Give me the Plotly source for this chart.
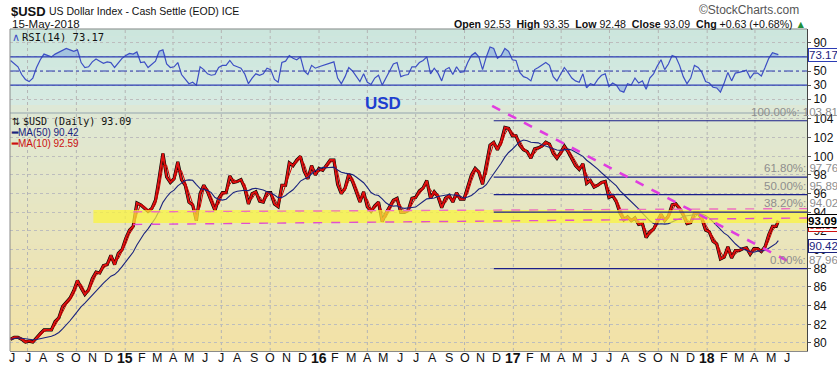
import numpy as np
import pandas as pd
import plotly.graph_objects as go

# ---------------- data (weekly closes) ----------------
close_2014 = [80.4,
              80.6, 80.6, 80.4, 80.1,
              80.2, 80.1, 80.6, 81.0,
              81.4, 81.4, 81.4, 82.3, 82.7,
              83.9, 84.3, 84.8, 85.6,
              86.7, 85.9, 85.2, 85.7, 86.9,
              87.6, 87.5, 88.3, 88.4,
              89.4, 88.4, 89.6, 90.0]
close_2015 = [91.2, 92.1, 92.5, 95.0, 94.8,
              94.5, 94.1, 94.4, 95.3,
              97.7, 100.3, 97.8, 97.2,
              97.6, 99.4, 97.5, 96.9,
              95.1, 94.8, 93.1, 96.0, 96.9,
              96.2, 95.2, 94.2, 95.5,
              96.1, 96.1, 97.9, 97.2, 97.3,
              97.5, 96.6, 94.9, 96.0,
              96.2, 95.2, 95.1, 96.1,
              96.1, 94.9, 94.6, 96.9, 96.9,
              99.3, 99.0, 99.6, 100.0,
              98.4, 97.6, 99.0, 98.0]
close_2016 = [98.7, 98.5, 99.0, 99.6, 99.6,
              97.0, 96.0, 96.6, 98.1,
              97.3, 96.2, 95.1, 96.2,
              94.6, 94.1, 94.7, 95.1, 93.0,
              93.9, 94.6, 95.3, 95.5,
              94.0, 94.0, 94.2, 95.5,
              95.6, 96.3, 96.6, 97.4, 95.5,
              96.2, 95.7, 94.5, 95.5,
              95.8, 95.1, 96.1, 95.4, 95.4,
              96.6, 98.0, 98.7, 98.3,
              97.0, 99.0, 101.2, 101.5,
              100.7, 101.6, 103.1, 103.0, 102.2]
close_2017 = [102.2, 101.2, 100.7, 100.5,
              99.8, 100.8, 100.9, 101.1,
              101.5, 101.3, 100.3, 99.8, 100.4,
              101.1, 100.5, 99.8, 99.0,
              98.6, 99.2, 97.1, 97.4,
              96.7, 96.9, 97.2, 97.3, 95.6,
              95.8, 95.1, 93.9, 93.2,
              93.5, 93.1, 93.4, 92.7,
              92.8, 91.3, 91.9, 92.2, 93.1,
              93.8, 93.1, 93.6, 94.8,
              94.9, 94.4, 93.7, 92.8,
              92.9, 93.9, 93.9, 93.3, 92.1]
close_2018 = [91.9, 90.9, 90.6, 89.0,
              89.2, 90.3, 89.1, 89.9,
              89.9, 90.1, 90.2, 89.5, 90.1,
              90.1, 89.8, 90.3, 91.6,
              92.5, 92.5,
              93.09]

rsi_2014 = [65,
            60, 56, 45, 38,
            35, 40, 55, 66,
            74, 72, 70, 74, 77,
            80, 82, 80, 78,
            80, 62, 55, 56, 63,
            67, 64, 61, 63,
            62, 55, 62, 68]
rsi_2015 = [72, 75, 74, 77, 62,
            63, 55, 60, 64,
            78, 80, 60, 55,
            56, 62, 45, 38,
            32, 34, 30, 56, 52,
            46, 44, 45, 55,
            58, 58, 65, 58, 56,
            54, 46, 32, 40,
            46, 44, 46, 54,
            52, 38, 34, 62, 64,
            72, 68, 66, 70,
            50, 45, 58, 54]
rsi_2016 = [56, 58, 60, 62, 63,
            40, 32, 42, 55,
            50, 42, 35, 46,
            34, 31, 40, 44, 30,
            40, 50, 60, 62,
            42, 44, 45, 56,
            56, 62, 65, 70, 46,
            54, 47, 36, 52,
            55, 45, 56, 48, 49,
            62, 72, 76, 70,
            52, 70, 84, 82,
            68, 72, 82, 78, 66]
rsi_2017 = [65, 48, 42, 40,
            36, 52, 55, 58,
            62, 58, 42, 36, 46,
            55, 48, 40, 36,
            34, 46, 26, 32,
            30, 38, 44, 46, 28,
            33, 30, 22, 20,
            32, 30, 40, 33,
            36, 24, 40, 46, 57,
            66, 52, 60, 72,
            70, 58, 42, 32,
            40, 58, 55, 48, 35]
rsi_2018 = [33, 27, 26, 20,
            33, 48, 36, 47,
            48, 50, 51, 40, 47,
            47, 43, 55, 68,
            76, 74,
            73.17]

close = close_2014 + close_2015 + close_2016 + close_2017 + close_2018
rsi = rsi_2014 + rsi_2015 + rsi_2016 + rsi_2017 + rsi_2018
dates = list(pd.date_range("2014-05-30", "2018-05-11", freq="W-FRI").strftime("%Y-%m-%d")) + ["2018-05-15"]
assert len(dates) == len(close) == len(rsi), (len(dates), len(close), len(rsi))

fib_pcts = ["100.00%", "61.80%", "50.00%", "38.20%", "0.00%"]
fib_vals = [103.81, 97.76, 95.89, 94.02, 87.96]
fib_start = "2016-11-25"
trend_x = ["2016-11-22", "2018-06-05"]
trend_y = [105.4, 88.68]
band_x0 = "2014-11-02"
band_y = [92.85, 94.25]
support_x0 = "2015-01-16"
support_low = [92.70, 93.39]
support_high = [94.05, 94.40]

X_RANGE = ["2014-05-29", "2018-07-08"]
P_RANGE = [79.14, 105.5]
R_RANGE = [1.8, 109.6]

ser = pd.Series(close)
ma50 = ser.rolling(10, min_periods=1).mean()
ma10 = ser.rolling(2, min_periods=1).mean()
rsi_arr = np.array(rsi, dtype=float)

# ---------------- figure ----------------
fig = go.Figure()

# RSI panel
fig.add_trace(go.Scatter(x=dates, y=[70] * len(dates), mode="lines", line=dict(width=0),
                         xaxis="x2", yaxis="y2", hoverinfo="skip"))
fig.add_trace(go.Scatter(x=dates, y=np.maximum(rsi_arr, 70), mode="lines", line=dict(width=0),
                         fill="tonexty", fillcolor="rgba(110,150,225,0.45)", xaxis="x2", yaxis="y2"))
fig.add_trace(go.Scatter(x=dates, y=[30] * len(dates), mode="lines", line=dict(width=0),
                         xaxis="x2", yaxis="y2", hoverinfo="skip"))
fig.add_trace(go.Scatter(x=dates, y=np.minimum(rsi_arr, 30), mode="lines", line=dict(width=0),
                         fill="tonexty", fillcolor="rgba(110,150,225,0.45)", xaxis="x2", yaxis="y2"))
fig.add_trace(go.Scatter(x=dates, y=rsi, mode="lines", line=dict(color="#3d4fc4", width=1.2),
                         xaxis="x2", yaxis="y2"))

# price panel
fig.add_trace(go.Scatter(x=dates, y=close, mode="lines", line=dict(color="#000000", width=3.2),
                         xaxis="x", yaxis="y"))
fig.add_trace(go.Scatter(x=dates, y=close, mode="lines", line=dict(color="#e01010", width=2),
                         xaxis="x", yaxis="y"))
fig.add_trace(go.Scatter(x=dates, y=ma10, mode="lines", line=dict(color="#d00000", width=1),
                         xaxis="x", yaxis="y"))
fig.add_trace(go.Scatter(x=dates, y=ma50, mode="lines", line=dict(color="#1a237e", width=1.1),
                         xaxis="x", yaxis="y"))

shapes = []


def lerp(c0, c1, t):
    return tuple(int(round(a + (b - a) * t)) for a, b in zip(c0, c1))


nb = 30
for i in range(nb):
    c = lerp((243, 226, 166), (222, 232, 214), i / (nb - 1))
    shapes.append(dict(type="rect", xref="x domain", yref="y domain", x0=0, x1=1,
                       y0=i / nb, y1=(i + 1) / nb + 0.002, fillcolor="rgb(%d,%d,%d)" % c,
                       line_width=0, layer="below"))
nr = 10
for i in range(nr):
    c = lerp((214, 234, 226), (204, 230, 221), i / (nr - 1))
    shapes.append(dict(type="rect", xref="x2 domain", yref="y2 domain", x0=0, x1=1,
                       y0=i / nr, y1=(i + 1) / nr + 0.003, fillcolor="rgb(%d,%d,%d)" % c,
                       line_width=0, layer="below"))

# quarterly vertical grid
for d in pd.date_range("2014-07-01", "2018-04-01", freq="QS"):
    shapes.append(dict(type="line", xref="x", yref="paper", x0=d.strftime("%Y-%m-%d"),
                       x1=d.strftime("%Y-%m-%d"), y0=0, y1=1,
                       line=dict(color="#b4b4b4", width=1, dash="dot"), layer="below"))

# separator line at the top of the price panel
shapes.append(dict(type="line", xref="x domain", yref="y domain", x0=0, x1=1, y0=0.9675, y1=0.9675,
                   line=dict(color="#94a3ad", width=1.2), layer="above"))

# RSI reference lines
for v, dsh in [(70, "solid"), (30, "solid"), (50, "dashdot")]:
    shapes.append(dict(type="line", xref="x2 domain", yref="y2", x0=0, x1=1, y0=v, y1=v,
                       line=dict(color="#2c3cb4", width=1.2, dash=dsh), layer="above"))

# yellow support band
shapes.append(dict(type="rect", xref="x", yref="y", x0=band_x0, x1=X_RANGE[1],
                   y0=band_y[0], y1=band_y[1], fillcolor="#fbf43a", opacity=0.72,
                   line_width=0, layer="above"))
# support dashed lines
shapes.append(dict(type="line", xref="x", yref="y", x0=support_x0, x1=X_RANGE[1],
                   y0=support_high[0], y1=support_high[1],
                   line=dict(color="#ee6fbf", width=1.4, dash="dash"), layer="above"))
shapes.append(dict(type="line", xref="x", yref="y", x0=support_x0, x1=X_RANGE[1],
                   y0=support_low[0], y1=support_low[1],
                   line=dict(color="#e04fd0", width=1.4, dash="dash"), layer="above"))
# fib lines
for v in fib_vals:
    shapes.append(dict(type="line", xref="x", yref="y", x0=fib_start, x1=X_RANGE[1], y0=v, y1=v,
                       line=dict(color="#1a1f8a", width=1.2), layer="above"))
# downtrend line
shapes.append(dict(type="line", xref="x", yref="y", x0=trend_x[0], x1=trend_x[1],
                   y0=trend_y[0], y1=trend_y[1],
                   line=dict(color="#e03ce0", width=2.6, dash="dash"), layer="above"))


def px_x(p):
    return (p - 10) / 797.0


def px_y(p):
    return (351 - p) / 322.0


MONO = "DejaVu Sans Mono, Liberation Mono, monospace"
ann = []
# header
ann.append(dict(text="<b>$USD</b>", xref="paper", yref="paper", x=px_x(9), y=px_y(11),
                xanchor="left", yanchor="middle", showarrow=False,
                font=dict(family="Liberation Sans", size=13, color="#111")))
ann.append(dict(text="US Dollar Index - Cash Settle (EOD) ICE", xref="paper", yref="paper",
                x=px_x(47), y=px_y(11), xanchor="left", yanchor="middle", showarrow=False,
                font=dict(family="Liberation Sans", size=10.5, color="#111")))
ann.append(dict(text="15-May-2018", xref="paper", yref="paper", x=px_x(10), y=px_y(24),
                xanchor="left", yanchor="middle", showarrow=False,
                font=dict(family="Liberation Sans", size=11.5, color="#111")))
ann.append(dict(text="©StockCharts.com", xref="paper", yref="paper", x=px_x(801), y=px_y(10),
                xanchor="right", yanchor="middle", showarrow=False,
                font=dict(family="Liberation Sans", size=12, color="#555")))
ann.append(dict(text="<b>Open</b> 92.53  <b>High</b> 93.35  <b>Low</b> 92.48  <b>Close</b> 93.09  "
                     "<b>Chg</b> +0.63 (+0.68%) <span style='color:#1f8f3a'>▲</span>",
                xref="paper", yref="paper", x=px_x(808), y=px_y(24), xanchor="right",
                yanchor="middle", showarrow=False,
                font=dict(family="Liberation Sans", size=10.6, color="#111")))
# panel labels
ann.append(dict(text="∧", xref="paper", yref="paper", x=px_x(10), y=px_y(37),
                xanchor="left", yanchor="middle", showarrow=False,
                font=dict(family="DejaVu Sans", size=11, color="#3d4fc4")))
ann.append(dict(text="RSI(14) 73.17", xref="paper", yref="paper",
                x=px_x(20), y=px_y(37), xanchor="left", yanchor="middle", showarrow=False,
                font=dict(family=MONO, size=10.5, color="#111")))
ann.append(dict(text="⇅", xref="paper", yref="paper", x=px_x(10), y=px_y(121),
                xanchor="left", yanchor="middle", showarrow=False,
                font=dict(family="DejaVu Sans", size=10, color="#111")))
ann.append(dict(text="$USD (Daily) 93.09", xref="paper", yref="paper",
                x=px_x(21), y=px_y(121), xanchor="left", yanchor="middle", showarrow=False,
                font=dict(family=MONO, size=10, color="#111")))
ann.append(dict(text="<b>━</b>MA(50) 90.42", xref="paper", yref="paper",
                x=px_x(9), y=px_y(132), xanchor="left", yanchor="middle", showarrow=False,
                font=dict(family="Liberation Sans", size=10, color="#1a237e")))
ann.append(dict(text="<b>━</b>MA(10) 92.59", xref="paper", yref="paper",
                x=px_x(9), y=px_y(143), xanchor="left", yanchor="middle", showarrow=False,
                font=dict(family="Liberation Sans", size=10, color="#cc1010")))
ann.append(dict(text="<b>USD</b>", xref="paper", yref="paper", x=px_x(383), y=px_y(103),
                xanchor="center", yanchor="middle", showarrow=False,
                font=dict(family="Liberation Sans", size=17, color="#1d3fd0")))
# fib labels
for p, v in zip(fib_pcts, fib_vals):
    ann.append(dict(text="%s: %.2f" % (p, v), xref="paper", yref="y", x=1, y=v,
                    xanchor="right", yanchor="bottom", xshift=33, yshift=1, showarrow=False,
                    font=dict(family="Liberation Sans", size=11.5, color="#8e8e8e")))
# right-side value boxes
ann.append(dict(text="73.17", xref="paper", yref="y2", x=1, y=73.17, xanchor="left",
                yanchor="middle", xshift=1, showarrow=False, bgcolor="white",
                bordercolor="#2c3cb4", borderwidth=1, borderpad=0,
                font=dict(family="Liberation Sans", size=11.5, color="#1a237e")))
ann.append(dict(text="92.59", xref="paper", yref="y", x=1, y=92.59, xanchor="left",
                yanchor="middle", xshift=1, showarrow=False, bgcolor="white",
                bordercolor="#d01010", borderwidth=1, borderpad=0,
                font=dict(family="Liberation Sans", size=11.5, color="#d01010")))
ann.append(dict(text="<b>93.09</b>", xref="paper", yref="y", x=1, y=93.09, xanchor="left",
                yanchor="middle", xshift=0, showarrow=False, bgcolor="white",
                bordercolor="#000", borderwidth=1, borderpad=0,
                font=dict(family="Liberation Sans", size=11.5, color="#000")))
ann.append(dict(text="90.42", xref="paper", yref="y", x=1, y=90.42, xanchor="left",
                yanchor="middle", xshift=1, showarrow=False, bgcolor="white",
                bordercolor="#1a237e", borderwidth=1, borderpad=0,
                font=dict(family="Liberation Sans", size=11.5, color="#1a237e")))

# month tick labels (drawn as text at the axis dates)
months = pd.date_range("2014-06-01", "2018-06-01", freq="MS")
letters = "JFMAMJJASOND"
tick_vals = [m.strftime("%Y-%m-%d") for m in months]
tick_text = ["<b>%s</b>" % m.strftime("%y") if m.month == 1 else letters[m.month - 1] for m in months]
for tv, tt in zip(tick_vals, tick_text):
    big = tt.startswith("<b>")
    ann.append(dict(text=tt, xref="x", yref="paper", x=tv, y=px_y(358), xanchor="center",
                    yanchor="middle", showarrow=False,
                    font=dict(family="Liberation Sans", size=14 if big else 12.5, color="#111")))

fig.update_layout(
    width=837, height=368, autosize=False,
    margin=dict(l=10, r=30, t=29, b=17, pad=0),
    paper_bgcolor="white", plot_bgcolor="#e6e6d0",
    showlegend=False, hovermode=False,
    shapes=shapes, annotations=ann,
    xaxis=dict(domain=[0, 1], anchor="y", range=X_RANGE, type="date", automargin=False,
               showticklabels=False, showgrid=False,
               showline=True, linecolor="#8a8a8a", mirror=False, ticks="", zeroline=False),
    xaxis2=dict(domain=[0, 1], anchor="y2", matches="x", range=X_RANGE, type="date",
                automargin=False,
                showticklabels=False, showgrid=False, showline=False, zeroline=False),
    yaxis=dict(domain=[0, 0.764], anchor="x", range=P_RANGE, side="right", automargin=False,
               tickvals=list(range(80, 105, 2)), showgrid=True, gridcolor="#bdbdbd",
               griddash="dot", gridwidth=1, zeroline=False,
               ticks="outside", ticklen=3, tickcolor="#555",
               tickfont=dict(family="Liberation Sans", size=12, color="#111"),
               showline=True, linecolor="#444", mirror=False),
    yaxis2=dict(domain=[0.764, 1], anchor="x2", range=R_RANGE, side="right", automargin=False,
                tickvals=[10, 30, 50, 70, 90], showgrid=True, gridcolor="#bdbdbd",
                griddash="dot", gridwidth=1, zeroline=False,
                ticks="outside", ticklen=3, tickcolor="#555",
                tickfont=dict(family="Liberation Sans", size=12, color="#111"),
                showline=True, linecolor="#444", mirror=False),
)

# frame line at far left and top
fig.add_shape(type="line", xref="paper", yref="paper", x0=0, x1=0, y0=0, y1=1,
              line=dict(color="#8a8a8a", width=1))
fig.add_shape(type="line", xref="paper", yref="paper", x0=0, x1=1, y0=1, y1=1,
              line=dict(color="#8a8a8a", width=1))

fig.write_html("out.html", config={"displayModeBar": False},
               post_script="document.body.style.margin='0';document.body.style.overflow='hidden';")
